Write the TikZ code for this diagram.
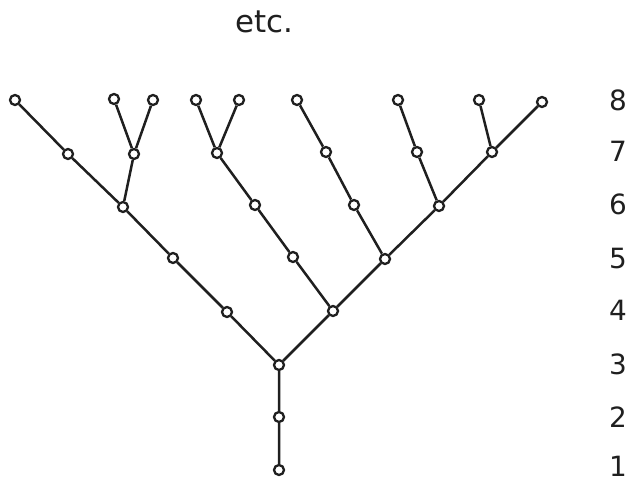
\documentclass[tikz,border=0pt]{standalone}
\usepackage{fontspec}
\setmainfont{DejaVu Sans}
\begin{document}
\begin{tikzpicture}[x=1bp,y=-1bp,
  vtx/.style={circle,draw=black!88,fill=white,line width=2.3bp,minimum size=10bp,inner sep=0pt},
  edge/.style={draw=black!88,line width=2.5bp},
  lvl/.style={font=\fontsize{28}{28}\selectfont,text=black!88,anchor=base,inner sep=0pt}]
\useasboundingbox (0,0) rectangle (629,482);
\node[lvl,font=\fontsize{31}{31}\selectfont] (etc) at (264,33) {etc.};
% levels
\node[lvl] (l8) at (618,111) {8};
\node[lvl] (l7) at (618,162) {7};
\node[lvl] (l6) at (618,215) {6};
\node[lvl] (l5) at (618,268) {5};
\node[lvl] (l4) at (618,320) {4};
\node[lvl] (l3) at (618,374) {3};
\node[lvl] (l2) at (618,427) {2};
\node[lvl] (l1) at (618,476) {1};
% nodes
\node[vtx] (n1) at (279,470) {};
\node[vtx] (n2) at (279,417) {};
\node[vtx] (n3) at (279,365) {};
\node[vtx] (a4) at (227,312) {};
\node[vtx] (b4) at (333,311) {};
\node[vtx] (a5) at (173,258) {};
\node[vtx] (b5) at (293,257) {};
\node[vtx] (c5) at (385,259) {};
\node[vtx] (a6) at (123,207) {};
\node[vtx] (b6) at (255,205) {};
\node[vtx] (c6) at (354,205) {};
\node[vtx] (d6) at (439,206) {};
\node[vtx] (a7) at (68,154) {};
\node[vtx] (b7) at (134,154) {};
\node[vtx] (c7) at (217,153) {};
\node[vtx] (d7) at (326,152) {};
\node[vtx] (e7) at (417,152) {};
\node[vtx] (f7) at (492,152) {};
\node[vtx] (a8) at (15,100) {};
\node[vtx] (b8) at (114,99) {};
\node[vtx] (c8) at (153,100) {};
\node[vtx] (d8) at (196,100) {};
\node[vtx] (e8) at (239,100) {};
\node[vtx] (f8) at (297,100) {};
\node[vtx] (g8) at (398,100) {};
\node[vtx] (h8) at (479,100) {};
\node[vtx] (i8) at (542,102) {};
% edges
\path[edge] (n1)--(n2) (n2)--(n3) (n3)--(a4) (n3)--(b4)
  (a4)--(a5) (a5)--(a6) (a6)--(a7) (a7)--(a8)
  (a6)--(b7) (b7)--(b8) (b7)--(c8)
  (b4)--(b5) (b5)--(b6) (b6)--(c7) (c7)--(d8) (c7)--(e8)
  (b4)--(c5) (c5)--(c6) (c6)--(d7) (d7)--(f8)
  (c5)--(d6) (d6)--(e7) (e7)--(g8)
  (d6)--(f7) (f7)--(h8) (f7)--(i8);
\end{tikzpicture}
\end{document}
